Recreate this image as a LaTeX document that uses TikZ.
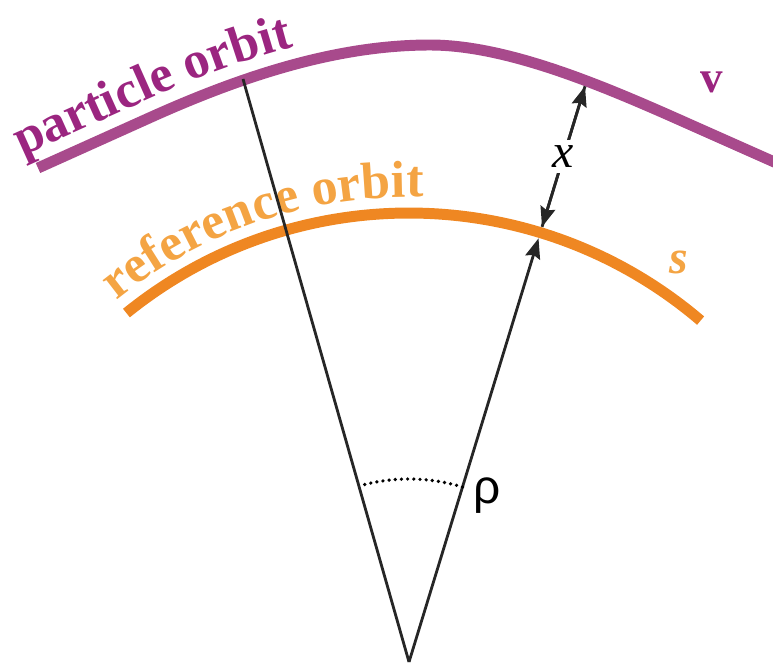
\documentclass[tikz,border=0pt]{standalone}
\usepackage{fontspec}
\setmainfont{Liberation Serif}
\newfontfamily\orbitserif{Liberation Serif}
\newfontfamily\rhofont{Liberation Sans}
\usetikzlibrary{arrows.meta,calc,decorations.text}

\definecolor{orbitpurple}{HTML}{A84A8C}
\definecolor{labelpurple}{HTML}{9B2580}
\definecolor{orbitorange}{HTML}{EF8722}
\definecolor{labelorange}{HTML}{F4A443}
\newcommand{\orbitlabelfont}{\orbitserif\bfseries\fontsize{37}{40}\selectfont}

\begin{document}
\begin{tikzpicture}[x=0.025cm,y=0.025cm,
  orbit/.style={line width=7.8pt},
  ray/.style={line width=2pt,black!85},
  tip/.style={-{Stealth[length=5mm,width=3.8mm,inset=0.7mm]}}]

\useasboundingbox (0,0) rectangle (773,666);

% Apex of the sector
\coordinate (O) at (409,4);
\coordinate (P) at (243,587);
\coordinate (R) at ($(O)+(73:443)$);

% Particle orbit
\draw[orbit,orbitpurple] (38,498) -- (150,548.4) .. controls (243,590.3) and (337,621) .. (430,621)
  .. controls (513,621) and (617,574) .. (700,537) -- (790,497);
\path[decorate,decoration={text along path,text color=labelpurple,
  text={|\orbitlabelfont|particle orbit}}]
  (22,509.5) -- (144,564.4) .. controls (237,606.3) and (331,637) .. (424,637) -- (480,637);

% Reference orbit
\draw[orbit,orbitorange] (O) ++(129:449) arc[start angle=129,end angle=49.5,radius=449];
\path[decorate,decoration={text along path,text color=labelorange,
  text={|\orbitlabelfont|reference orbit}}] (O) ++(129:465) arc[start angle=129,end angle=80,radius=465];

% Rays
\draw[ray] (O) -- (P);
\draw[ray,tip] (O) -- (R);

% Displacement x
\coordinate (xlow) at ($(O)+(73:455)$);
\coordinate (xhigh) at ($(O)+(73:602)$);
\draw[ray,tip] (xlow) -- (xhigh);
\draw[ray,tip] (xhigh) -- (xlow);
\node[fill=white,inner sep=4pt,font=\orbitserif\itshape\fontsize{34}{38}\selectfont] (x) at ($(xlow)!0.5!(xhigh)$) {x};

% Angle mark
\draw[line width=2.6pt,line cap=round,dash pattern=on 0pt off 4.4pt] ($(O)+(73:183)$) arc[start angle=73,end angle=105.9,radius=183];
\node[font=\rhofont\fontsize{34}{38}\selectfont] (rho) at (487,170) {ρ};

% Labels
\node[text=labelpurple,font=\orbitserif\bfseries\fontsize{32}{36}\selectfont] (v) at (712,584) {v};
\node[text=labelorange,font=\orbitserif\bfseries\itshape\fontsize{34}{38}\selectfont] (s) at (679,404) {s};

\end{tikzpicture}
\end{document}
